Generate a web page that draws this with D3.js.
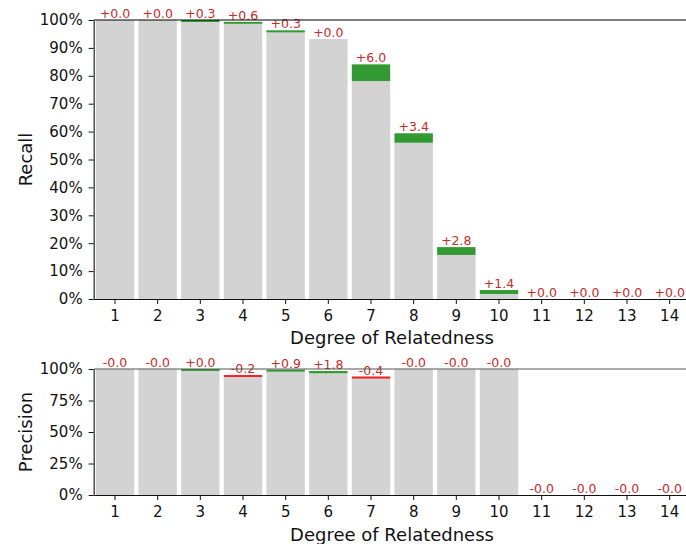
<!DOCTYPE html>
<html>
<head>
<meta charset="utf-8">
<script src="https://cdn.jsdelivr.net/npm/d3@7"></script>
<style>
  body { margin: 0; background: #fff; }
  svg { display: block; font-family: "DejaVu Sans", sans-serif; }
</style>
</head>
<body>
<svg width="686" height="544"></svg>
<script>
const degrees = [1, 2, 3, 4, 5, 6, 7, 8, 9, 10, 11, 12, 13, 14];

// recall: baseline value (gray) and gain (colored), in %
const recallBase = [100, 100, 99.7, 98.75, 96.0, 93.2, 78.1, 56.0, 15.8, 1.8, 0, 0, 0, 0];
const recallDelta = [0, 0, 0.3, 0.6, 0.3, 0, 6.0, 3.4, 2.8, 1.4, 0, 0, 0, 0];
const recallLabels = ["+0.0", "+0.0", "+0.3", "+0.6", "+0.3", "+0.0", "+6.0", "+3.4", "+2.8", "+1.4", "+0.0", "+0.0", "+0.0", "+0.0"];

const precisionBase = [100, 100, 100, 95.2, 98.6, 96.6, 94.0, 100, 100, 100, 0, 0, 0, 0];
const precisionDelta = [0, 0, 0.04, -0.2, 0.9, 1.8, -0.4, 0, 0, 0, 0, 0, 0, 0];
const precisionLabels = ["-0.0", "-0.0", "+0.0", "-0.2", "+0.9", "+1.8", "-0.4", "-0.0", "-0.0", "-0.0", "-0.0", "-0.0", "-0.0", "-0.0"];

const recallTicks = d3.range(0, 1.01, 0.1);
const precisionTicks = [0, 0.25, 0.5, 0.75, 1];

const svg = d3.select("svg");

const x = d3.scaleBand()
  .domain(degrees)
  .range([93.67, 691])
  .paddingInner(0.1)
  .paddingOuter(0.05);

const panel = (opts) => {
  const { top, bottom, base, delta, labels, ticks, ylabel, topColor, xlabelY } = opts;
  const y = d3.scaleLinear().domain([0, 1]).range([bottom, top]);
  const g = svg.append("g");

  const rows = degrees.map((d, i) => ({ d, base: base[i] / 100, delta: delta[i] / 100, label: labels[i] }));

  g.selectAll("rect.base")
    .data(rows)
    .join("rect")
    .attr("class", "base")
    .attr("x", (r) => x(r.d))
    .attr("width", x.bandwidth())
    .attr("y", (r) => y(r.base))
    .attr("height", (r) => y(0) - y(r.base))
    .attr("fill", "#d3d3d3");

  g.selectAll("rect.delta")
    .data(rows.filter((r) => r.delta !== 0))
    .join("rect")
    .attr("class", "delta")
    .attr("x", (r) => x(r.d))
    .attr("width", x.bandwidth())
    .attr("y", (r) => y(Math.max(r.base, r.base + r.delta)))
    .attr("height", (r) => Math.max(2, Math.abs(y(r.base) - y(r.base + r.delta))))
    .attr("fill", (r) => (r.delta > 0 ? "#339a33" : "#f52020"));

  g.selectAll("text.lbl")
    .data(rows)
    .join("text")
    .attr("class", "lbl")
    .attr("x", (r) => x(r.d) + x.bandwidth() / 2)
    .attr("y", (r) => y(Math.max(r.base, r.base + r.delta)) - 2)
    .attr("text-anchor", "middle")
    .attr("font-size", 12.5)
    .attr("fill", "#c92a2a")
    .text((r) => r.label);

  // top reference line
  g.append("line")
    .attr("x1", x.range()[0]).attr("x2", x.range()[1])
    .attr("y1", y(1)).attr("y2", y(1))
    .attr("stroke", topColor)
    .attr("stroke-width", 1.2);

  const xAxis = g.append("g")
    .attr("transform", `translate(0,${bottom})`)
    .call(d3.axisBottom(x).tickSize(5).tickPadding(6).tickSizeOuter(0));

  const yAxis = g.append("g")
    .attr("transform", `translate(${x.range()[0]},0)`)
    .call(d3.axisLeft(y).tickValues(ticks).tickFormat(d3.format(".0%")).tickSize(5).tickPadding(6).tickSizeOuter(0));

  [xAxis, yAxis].forEach((a) => {
    a.selectAll("text").attr("font-size", 15).attr("font-family", "DejaVu Sans").attr("fill", "#111");
    a.selectAll("line").attr("stroke", "#111");
    a.select(".domain").attr("stroke", "#111").attr("stroke-width", 1.1);
  });

  g.append("text")
    .attr("x", 392)
    .attr("y", xlabelY)
    .attr("text-anchor", "middle")
    .attr("font-size", 18)
    .attr("fill", "#111")
    .text("Degree of Relatedness");

  g.append("text")
    .attr("transform", `translate(31.5,${(top + bottom) / 2}) rotate(-90)`)
    .attr("text-anchor", "middle")
    .attr("font-size", 18)
    .attr("fill", "#111")
    .text(ylabel);
};

panel({
  top: 20, bottom: 299,
  base: recallBase, delta: recallDelta, labels: recallLabels,
  ticks: recallTicks, ylabel: "Recall", topColor: "#000", xlabelY: 344
});

panel({
  top: 369, bottom: 495,
  base: precisionBase, delta: precisionDelta, labels: precisionLabels,
  ticks: precisionTicks, ylabel: "Precision", topColor: "#555", xlabelY: 541
});
</script>
</body>
</html>
